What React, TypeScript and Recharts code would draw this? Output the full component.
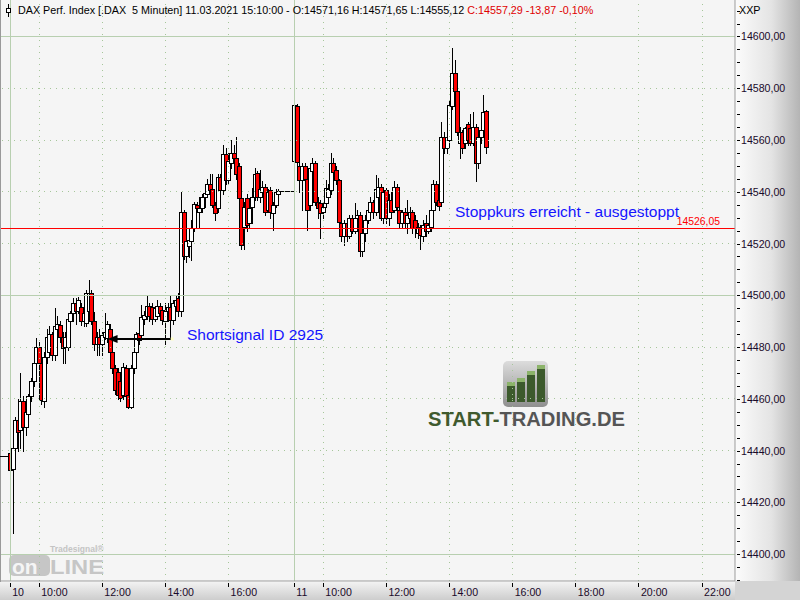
import React from "react";
import { ComposedChart, Bar, XAxis, YAxis, ReferenceLine } from "recharts";

// slots of the category axis (5-minute bars); slot 0 = 10.03. 09:05, slot 108 = 11.03. 09:05
const FIRST_SLOT = -3;
const LAST_SLOT = 275;

// OHLC of the bars, first three are the flat bars of the previous session
const opens = [
  14438, 14438, 14438,
  14439, 14433, 14441, 14452, 14448, 14459, 14449, 14454, 14461, 14467,
  14474, 14480, 14474, 14459, 14476, 14478, 14485, 14477, 14487, 14488.5,
  14484, 14480, 14480, 14490, 14493, 14497, 14494, 14495.6, 14490, 14489.2,
  14494, 14501, 14490, 14481, 14484, 14481, 14484, 14483.5, 14487, 14478,
  14471.8, 14470.5, 14467, 14461.4, 14472, 14461.4, 14457, 14471.8, 14478, 14485.4,
  14484.6, 14491, 14492, 14496, 14495.5, 14491, 14492, 14496, 14494.3, 14490,
  14494, 14495.6, 14490.4, 14496, 14499, 14494, 14532, 14515, 14519, 14521,
  14526, 14535, 14532.3, 14533.6, 14538, 14539, 14542.9, 14541, 14535, 14533.6,
  14545.8, 14540.7, 14554.6, 14544.5, 14551, 14555, 14553, 14550, 14537.5, 14526.5,
  14537.5, 14528, 14534, 14538, 14547.2, 14538, 14540, 14542, 14533, 14540.7,
  14531.7, 14534.9, 14539, 14540.3, 14540.3, 14540.3, 14540.3, 14540.3,
  14552, 14573, 14550, 14544.5, 14550, 14545, 14535, 14548, 14551, 14536,
  14535.5, 14532, 14535.5, 14538, 14540.7, 14551, 14548.4, 14544.5, 14528, 14523,
  14528, 14523, 14530, 14525, 14530, 14531, 14517, 14524, 14529, 14532,
  14536, 14532, 14538, 14542, 14530, 14540.7, 14530, 14537, 14533, 14542,
  14533, 14528, 14532, 14528, 14530, 14532, 14529, 14524, 14526, 14523,
  14528, 14525, 14526.5, 14533, 14543, 14537, 14536, 14561, 14557, 14560,
  14573, 14586, 14579, 14559, 14563, 14559, 14566, 14564.5, 14559, 14565,
  14551, 14561, 14564, 14571.16,
];
const highs = [
  14438, 14438, 14438,
  14440, 14444, 14453, 14460, 14470, 14461, 14456, 14462, 14468, 14476,
  14483.4, 14482, 14475, 14478, 14487, 14488, 14486, 14495, 14492, 14490,
  14486, 14486, 14491.5, 14494, 14499, 14499, 14499.4, 14497, 14495, 14502,
  14505.9, 14502, 14493.6, 14486, 14487, 14486, 14493, 14490, 14489, 14479,
  14473, 14472, 14468, 14474, 14473, 14462, 14473, 14479, 14486, 14487,
  14496.2, 14494, 14500, 14497, 14497, 14496, 14498, 14497, 14496, 14497,
  14497, 14500, 14498.2, 14500, 14501, 14540, 14533, 14523, 14525, 14529,
  14536, 14536, 14538, 14539, 14542.2, 14545, 14547, 14547, 14536, 14547,
  14547, 14558, 14557, 14555, 14560, 14558, 14561, 14551, 14538, 14536,
  14539, 14536, 14541.3, 14549, 14548, 14548.4, 14544, 14543, 14541, 14542,
  14536, 14541, 14541, 14540.3, 14540.3, 14540.3, 14540.3, 14540.3,
  14578.4, 14574, 14552, 14551, 14551, 14546, 14550, 14553, 14552, 14538,
  14537, 14536, 14544.5, 14543, 14555, 14553, 14550, 14545, 14529, 14529,
  14529, 14531, 14531, 14535.5, 14533, 14532, 14526, 14531, 14535, 14538,
  14537, 14546.5, 14545.5, 14543, 14541, 14541.5, 14539, 14540, 14544, 14543,
  14534, 14533, 14533.6, 14537, 14534, 14533, 14531, 14528, 14527, 14529,
  14531, 14528, 14535.5, 14544.5, 14544, 14541, 14567, 14563, 14562, 14575,
  14595.4, 14591, 14580, 14565, 14564, 14565, 14567, 14570, 14571, 14566,
  14562, 14565, 14577.4, 14571.65,
];
const lows = [
  14438, 14438, 14438,
  14422.5, 14408.2, 14438, 14440, 14441, 14440, 14446, 14452, 14459, 14465,
  14473, 14472, 14458, 14457, 14474, 14476, 14475, 14475, 14483, 14482,
  14474, 14474, 14479, 14487, 14490, 14489, 14493, 14488.6, 14488, 14488,
  14493, 14489, 14479, 14477, 14477, 14477, 14483, 14482, 14476, 14470,
  14462, 14460, 14459, 14460, 14460, 14456.3, 14456.5, 14470, 14477, 14481,
  14483, 14489, 14491, 14490, 14489, 14490, 14491, 14491, 14489, 14481,
  14490, 14483, 14489, 14494, 14492, 14492, 14514, 14513, 14514.9, 14513.6,
  14525, 14532, 14526.5, 14532, 14534.2, 14538, 14539, 14534, 14529, 14532,
  14539, 14539, 14543, 14543, 14549, 14550, 14545, 14536, 14518, 14518,
  14525, 14526, 14527.8, 14537, 14537, 14536, 14538, 14531, 14532, 14530,
  14525.2, 14534, 14538, 14540.3, 14540.3, 14540.3, 14540.3, 14540.3,
  14548, 14547, 14540, 14533, 14540, 14525.2, 14533, 14546, 14535, 14530,
  14522, 14530, 14534, 14536, 14539, 14546, 14543, 14526.5, 14521, 14519.4,
  14521, 14522, 14524, 14524, 14528, 14515, 14515, 14521, 14528, 14531,
  14530, 14531, 14537, 14529, 14528, 14527.8, 14527, 14531, 14532, 14532,
  14526, 14526, 14526, 14524, 14527, 14524, 14522.6, 14522, 14518, 14521,
  14523, 14524, 14525, 14532, 14535, 14533, 14535, 14555, 14555, 14559,
  14572, 14577, 14562, 14553, 14555, 14557, 14558, 14558, 14558, 14544,
  14549, 14559, 14562, 14555.12,
];
const closes = [
  14438, 14438, 14438,
  14432.5, 14441, 14452, 14447, 14459, 14449, 14455, 14461, 14467, 14474,
  14480, 14474, 14459.5, 14476, 14484, 14485, 14477, 14488, 14489, 14484,
  14479.5, 14484, 14491, 14493, 14497, 14494, 14498, 14490, 14493, 14500.8,
  14501, 14490, 14481, 14484, 14481, 14484.5, 14486, 14489, 14478, 14471.8,
  14463.4, 14461.4, 14460.2, 14472.4, 14461, 14457, 14472, 14478.2, 14485, 14482.7,
  14491.7, 14492.5, 14496, 14492, 14491, 14495, 14496, 14493, 14490.4, 14494,
  14495.6, 14490.4, 14497, 14498.2, 14494, 14532, 14515, 14521, 14521.4, 14526,
  14535.3, 14533.6, 14533.7, 14538, 14539.4, 14543, 14540.7, 14535, 14531.7, 14545.8,
  14540.7, 14554.6, 14544.5, 14552, 14555, 14553, 14547, 14537.5, 14519.4, 14534.2,
  14527, 14533.7, 14538, 14547, 14538.1, 14541, 14542, 14532.3, 14540, 14532.3,
  14534.9, 14540, 14540.3, 14540.3, 14540.3, 14540.3, 14540.3, 14540.3,
  14573.5, 14551.6, 14544.5, 14550, 14545, 14533, 14549, 14551, 14536, 14533.6,
  14531.7, 14534, 14541.3, 14541, 14551, 14547.7, 14544.5, 14528.4, 14523, 14528,
  14523, 14530, 14525, 14530, 14531, 14517, 14524, 14529, 14533, 14536,
  14532, 14541, 14542, 14530, 14540, 14530, 14537, 14532, 14542, 14534,
  14528, 14532, 14528, 14531, 14532, 14526, 14526, 14526.5, 14523.3, 14527,
  14525, 14527, 14533, 14543, 14536, 14534.5, 14561, 14557, 14561, 14573.5,
  14586, 14579, 14563, 14563, 14557, 14564.5, 14560, 14559, 14565, 14551,
  14561, 14564, 14571, 14557.29,
];

const tickSlots = [0, 11, 35, 59, 83, 108, 119, 143, 167, 191, 215, 239, 263];
const tickLabels = ["10", "10:00", "12:00", "14:00", "16:00", "11", "10:00", "12:00", "14:00", "16:00", "18:00", "20:00", "22:00"];
const sessionStarts = [0, 108];
const solidPrices = [14400, 14500, 14600];
const dottedPrices = [14420, 14440, 14460, 14480, 14520, 14540, 14560, 14580];

const stopLevel = 14526.05;
const signalLevel = 14483;
const signalFrom = 37;
const signalTo = 61;

const Y_DOMAIN = [14389.6, 14614.1];
const yTicks: number[] = [];
for (let p = 14390; p <= 14610; p += 5) yTicks.push(p);

const data: any[] = [];
for (let s = FIRST_SLOT; s <= LAST_SLOT; s++) {
  const k = s - FIRST_SLOT;
  if (k < closes.length) {
    data.push({ slot: s, o: opens[k], h: highs[k], l: lows[k], c: closes[k] });
  } else {
    data.push({ slot: s, o: null, h: null, l: null, c: null });
  }
}

const fmt = (v: number) => v.toFixed(2).replace(".", ",");
const GRID_DOT = "#a6c69a";
const GRID_SOLID = "#b8cfb0";

function Candle(props: any) {
  const { x, y, width, height, payload } = props;
  if (!payload || payload.h == null || !Number.isFinite(y) || !Number.isFinite(height)) return <g />;
  const { o, h, l, c } = payload;
  const top = Math.min(y, y + height);
  const k = h > l ? Math.abs(height) / (h - l) : 0;
  const py = (v: number) => top + (h - v) * k;
  const fx = Math.floor(x + width / 2);
  const yHi = Math.round(py(h));
  const yLo = Math.round(py(l));
  const bTop = Math.round(py(Math.max(o, c)));
  const bBot = Math.round(py(Math.min(o, c)));
  const up = c >= o;
  return (
    <g shapeRendering="crispEdges">
      {yLo > yHi && <line x1={fx + 0.5} x2={fx + 0.5} y1={yHi} y2={yLo + 1} stroke="#000" />}
      {bBot - bTop >= 1 ? (
        <rect x={fx - 1.5} y={bTop + 0.5} width={4} height={bBot - bTop} fill={up ? "#fff" : "#f00"} stroke="#000" />
      ) : (
        <line x1={fx - 2} x2={fx + 3} y1={bTop + 0.5} y2={bTop + 0.5} stroke="#000" />
      )}
    </g>
  );
}

function PriceTick(props: any) {
  const { x, y, payload } = props;
  const v = payload.value;
  const yy = Math.round(y) + 0.5;
  return (
    <g>
      <line x1={x + 2} x2={x + 5} y1={yy} y2={yy} stroke="#000" shapeRendering="crispEdges" />
      {Math.round(v) % 20 === 0 && (
        <text x={x + 6} y={y + 4} fontSize={10.6} fill="#1a0a2a" textAnchor="start">
          {fmt(v)}
        </text>
      )}
    </g>
  );
}

function TimeTick(props: any) {
  const { x, y, payload } = props;
  const idx = tickSlots.indexOf(payload.value);
  const xx = Math.floor(x) + 0.5;
  return (
    <g>
      <line x1={xx} x2={xx} y1={y + 2} y2={y + 6} stroke="#000" shapeRendering="crispEdges" />
      <text x={x + 2} y={y + 15} fontSize={10.6} fill="#1a0a2a" textAnchor="start">
        {idx >= 0 ? tickLabels[idx] : ""}
      </text>
    </g>
  );
}

function SignalArrow(props: any) {
  const { x1, y1, x2, y2 } = props;
  const left = Math.min(x1, x2);
  const right = Math.max(x1, x2);
  const yy = Math.round((y1 + y2) / 2);
  return (
    <g>
      <line x1={left + 6} x2={right} y1={yy} y2={yy} stroke="#000" strokeWidth={2} />
      <polygon points={`${left},${yy} ${left + 10},${yy - 4} ${left + 10},${yy + 4}`} fill="#000" />
      <rect x={right} y={yy - 1.5} width={3} height={3} fill="#ffffc8" />
    </g>
  );
}

function StopLine(props: any) {
  const { x1, y1, x2, y2 } = props;
  const yy = Math.round((y1 + y2) / 2) + 0.5;
  return <line x1={x1} x2={x2} y1={yy} y2={yy} stroke="#ff0000" strokeWidth={1} shapeRendering="crispEdges" />;
}

function StopLabel(props: any) {
  const vb = props.viewBox || {};
  return (
    <text x={vb.x + vb.width - 15} y={vb.y - 3} fontSize={10.4} fill="#f00" textAnchor="end">
      {fmt(stopLevel)}
    </text>
  );
}

export default function App() {
  return (
    <div style={{ position: "absolute", left: 0, top: 0, width: 800, height: 600, fontFamily: "'Liberation Sans', Arial, sans-serif", background: "#fff" }}>
      <svg width={800} height={600} style={{ position: "absolute", left: 0, top: 0 }}>
        <defs>
          <linearGradient id="rightStrip" x1="0" x2="1" y1="0" y2="0">
            <stop offset="0" stopColor="#fbfbfb" />
            <stop offset="0.55" stopColor="#e4e4e4" />
            <stop offset="1" stopColor="#b4b4b4" />
          </linearGradient>
          <linearGradient id="bottomStrip" x1="0" x2="0" y1="0" y2="1">
            <stop offset="0" stopColor="#f2f2f2" />
            <stop offset="1" stopColor="#cdcdcd" />
          </linearGradient>
          <linearGradient id="logoBox" x1="0" x2="0" y1="0" y2="1">
            <stop offset="0" stopColor="#dcdcdc" />
            <stop offset="1" stopColor="#8f8f8f" />
          </linearGradient>
        </defs>
        <rect x={0} y={0} width={800} height={600} fill="#fff" />
        <rect x={1} y={0} width={734} height={581} fill="#f5f5f5" />
        <rect x={736} y={0} width={64} height={581} fill="url(#rightStrip)" />
        <rect x={0} y={582} width={735} height={18} fill="url(#bottomStrip)" />
        <rect x={735} y={581} width={65} height={19} fill="#d4d4d4" />
        <line x1={0.5} x2={0.5} y1={0} y2={582} stroke="#9a9a9a" />

        {/* START-TRADING.DE watermark */}
        <g>
          <rect x={503} y={361} width={45} height={46} rx={5} fill="url(#logoBox)" />
          <rect x={507} y={385} width={8} height={17} fill="#3c5a2c" />
          <rect x={507} y={382} width={8} height={4} fill="#8cb36a" />
          <rect x={517} y={381} width={8} height={21} fill="#3c5a2c" />
          <rect x={517} y={378} width={8} height={4} fill="#8cb36a" />
          <rect x={527} y={374} width={8} height={28} fill="#3c5a2c" />
          <rect x={527} y={371} width={8} height={4} fill="#8cb36a" />
          <rect x={537} y={368} width={8} height={34} fill="#3c5a2c" />
          <rect x={537} y={365} width={8} height={4} fill="#8cb36a" />
          <text x={428} y={426} fontSize={21} fontWeight="bold" textLength={197} lengthAdjust="spacingAndGlyphs">
            <tspan fill="#3f5a2e">START-</tspan>
            <tspan fill="#555">TRADING.DE</tspan>
          </text>
        </g>

        {/* Tradesignal online watermark */}
        <g>
          <text x={50} y={552} fontSize={8.5} fontWeight="bold" fill="#c4c4c4">Tradesignal®</text>
          <rect x={9} y={555} width={41} height={21} rx={5} fill="#c6c6c6" />
          <text x={12} y={574} fontSize={21} fontWeight="bold" fill="#f5f5f5">on</text>
          <text x={50} y={574} fontSize={21} fontWeight="bold" fill="#c6c6c6" textLength={54} lengthAdjust="spacingAndGlyphs">LINE</text>
        </g>
      </svg>

      <div style={{ position: "absolute", left: 0, top: 0 }}>
        <ComposedChart width={800} height={600} data={data} margin={{ top: 0, right: 0, bottom: 0, left: 1 }} barCategoryGap={0} barGap={0}>
          <XAxis
            dataKey="slot"
            type="category"
            ticks={tickSlots}
            interval={0}
            height={19}
            tickSize={0}
            tickMargin={0}
            tick={<TimeTick />}
            axisLine={{ stroke: "#9a9a9a" }}
            tickLine={false}
          />
          <YAxis
            orientation="right"
            type="number"
            domain={Y_DOMAIN}
            allowDataOverflow
            ticks={yTicks}
            interval={0}
            width={65}
            tickSize={0}
            tickMargin={0}
            tick={<PriceTick />}
            axisLine={{ stroke: "#9a9a9a" }}
            tickLine={false}
          />
          {dottedPrices.map((p) => (
            <ReferenceLine key={"dp" + p} y={p} stroke={GRID_DOT} strokeDasharray="1 5" shapeRendering="crispEdges" />
          ))}
          {solidPrices.map((p) => (
            <ReferenceLine key={"sp" + p} y={p} stroke={GRID_SOLID} shapeRendering="crispEdges" />
          ))}
          {tickSlots
            .filter((s) => !sessionStarts.includes(s))
            .map((s) => (
              <ReferenceLine key={"ds" + s} x={s} stroke={GRID_DOT} strokeDasharray="1 5" shapeRendering="crispEdges" />
            ))}
          {sessionStarts.map((s) => (
            <ReferenceLine key={"ss" + s} x={s} stroke={GRID_SOLID} shapeRendering="crispEdges" />
          ))}
          <ReferenceLine y={stopLevel} stroke="#ff0000" shape={<StopLine />} label={<StopLabel />} />
          <Bar
            dataKey={(d: any) => (d.h == null ? null : [d.l, d.h])}
            shape={<Candle />}
            isAnimationActive={false}
          />
          <ReferenceLine
            segment={[
              { x: signalFrom, y: signalLevel },
              { x: signalTo, y: signalLevel },
            ]}
            shape={<SignalArrow />}
          />
        </ComposedChart>
      </div>

      <svg width={800} height={600} style={{ position: "absolute", left: 0, top: 0, pointerEvents: "none" }}>
        <g shapeRendering="crispEdges">
          <line x1={8.5} x2={8.5} y1={4} y2={17} stroke="#000" />
          <rect x={6.5} y={8.5} width={4} height={4} fill="#fff" stroke="#000" />
        </g>
        <text x={18} y={14} fontSize={10.75} style={{ whiteSpace: "pre" }}>
          <tspan fill="#000">DAX Perf. Index [.DAX  5 Minuten] 11.03.2021 15:10:00 - O:14571,16 H:14571,65 L:14555,12 </tspan>
          <tspan fill="#e00000">C:14557,29 -13,87 -0,10%</tspan>
        </text>
        <text x={739} y={14} fontSize={10.75} fill="#000">XXP</text>
        <text x={455} y={217} fontSize={15.5} fill="#1414ff">Stoppkurs erreicht - ausgestoppt</text>
        <text x={187} y={340} fontSize={15.5} fill="#1414ff">Shortsignal ID 2925</text>
      </svg>
    </div>
  );
}
